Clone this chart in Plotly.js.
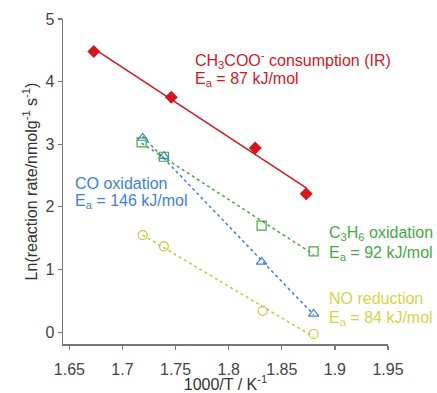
<!DOCTYPE html>
<html>
<head>
<meta charset="utf-8">
<script src="https://cdn.plot.ly/plotly-3.0.1.min.js"></script>
<style>html,body{margin:0;padding:0;background:#fff;}#chart{width:437px;height:393px;}</style>
</head>
<body>
<div id="chart"></div>
<script>
// Data
const acetateX = [1.673, 1.746, 1.825, 1.873];
const acetateY = [4.48, 3.75, 2.94, 2.21];
const c3h6X = [1.718, 1.739, 1.831, 1.880];
const c3h6Y = [3.03, 2.80, 1.70, 1.29];
const coX = [1.719, 1.739, 1.831, 1.880];
const coY = [3.10, 2.81, 1.12, 0.29];
const noX = [1.719, 1.739, 1.832, 1.880];
const noY = [1.55, 1.37, 0.34, -0.03];

const labels = {
  acetate: ["CH<sub>3</sub>COO<sup>-</sup> consumption (IR)", "E<sub>a</sub> = 87 kJ/mol"],
  co: ["CO oxidation", "E<sub>a</sub> = 146 kJ/mol"],
  c3h6: ["C<sub>3</sub>H<sub>6</sub> oxidation", "E<sub>a</sub> = 92 kJ/mol"],
  no: ["NO reduction", "E<sub>a</sub> = 84 kJ/mol"]
};
const xTicks = [1.65, 1.7, 1.75, 1.8, 1.85, 1.9, 1.95];
const yTicks = [0, 1, 2, 3, 4, 5];

function fit(xs, ys) {
  const n = xs.length;
  const mx = xs.reduce((a, b) => a + b, 0) / n;
  const my = ys.reduce((a, b) => a + b, 0) / n;
  let sxy = 0, sxx = 0;
  for (let i = 0; i < n; i++) { sxy += (xs[i] - mx) * (ys[i] - my); sxx += (xs[i] - mx) ** 2; }
  const m = sxy / sxx, b = my - m * mx;
  const x0 = Math.min(...xs), x1 = Math.max(...xs);
  return { x: [x0, x1], y: [m * x0 + b, m * x1 + b] };
}

const RED = '#d5161f', GREEN = '#45a845', BLUE = '#3f7fd6', YEL = '#c6c443', YELT = '#d6d445';
const FONT = 'Liberation Sans, Arial, sans-serif';

const traces = [];
function addSeries(xs, ys, color, symbol, dash, filled) {
  const f = fit(xs, ys);
  traces.push({ x: f.x, y: f.y, mode: 'lines', line: { color: color, width: 1.5, dash: dash }, hoverinfo: 'skip', showlegend: false });
  traces.push({ x: xs, y: ys, mode: 'markers', showlegend: false,
    marker: { symbol: symbol, size: filled ? 10 : 9, color: color, line: { color: color, width: filled ? 0 : 1.2 } } });
}
addSeries(noX, noY, YEL, 'circle-open', 'dot', false);
addSeries(coX, coY, BLUE, 'triangle-up-open', 'dot', false);
addSeries(c3h6X, c3h6Y, GREEN, 'square-open', 'dot', false);
addSeries(acetateX, acetateY, RED, 'diamond', 'solid', true);

function ann(x, y, text, color) {
  return { x: x, y: y, xref: 'x', yref: 'y', text: text, showarrow: false, xanchor: 'left', yanchor: 'middle',
    font: { family: FONT, size: 16, color: color } };
}
const annotations = [
  ann(1.766, 4.35, labels.acetate[0], RED),
  ann(1.766, 4.03, labels.acetate[1], RED),
  ann(1.653, 2.38, labels.co[0], BLUE),
  ann(1.653, 2.09, labels.co[1], BLUE),
  ann(1.893, 1.58, labels.c3h6[0], GREEN),
  ann(1.893, 1.26, labels.c3h6[1], GREEN),
  ann(1.893, 0.53, labels.no[0], YELT),
  ann(1.893, 0.22, labels.no[1], YELT)
];

const layout = {
  width: 437, height: 393,
  margin: { l: 63, r: 49, t: 19, b: 49 },
  paper_bgcolor: '#fff', plot_bgcolor: '#fff',
  font: { family: FONT, size: 16, color: '#444' },
  xaxis: {
    range: [1.644, 1.95], tickvals: xTicks, ticktext: xTicks.map(String),
    showgrid: false, zeroline: false, showline: true, linecolor: '#777', linewidth: 1.5,
    ticks: 'outside', ticklen: 4, tickcolor: '#777', tickwidth: 1.2, ticklabelstandoff: 6,
    tickfont: { family: FONT, size: 16, color: '#444' },
    title: { text: '1000/T / K<sup>-1</sup>', font: { family: FONT, size: 16, color: '#333' }, standoff: 0 }
  },
  yaxis: {
    range: [-0.19, 5.0], tickvals: yTicks,
    showgrid: false, zeroline: false, showline: true, linecolor: '#777', linewidth: 1.5,
    ticks: 'outside', ticklen: 4, tickcolor: '#777', tickwidth: 1.2,
    tickfont: { family: FONT, size: 16, color: '#444' },
    title: { text: 'Ln(reaction rate/nmolg<sup>-1</sup> s<sup>-1</sup>)', font: { family: FONT, size: 16, color: '#333' }, standoff: 4 }
  },
  annotations: annotations
};
Plotly.newPlot('chart', traces, layout, { displayModeBar: false, staticPlot: true });
</script>
</body>
</html>
